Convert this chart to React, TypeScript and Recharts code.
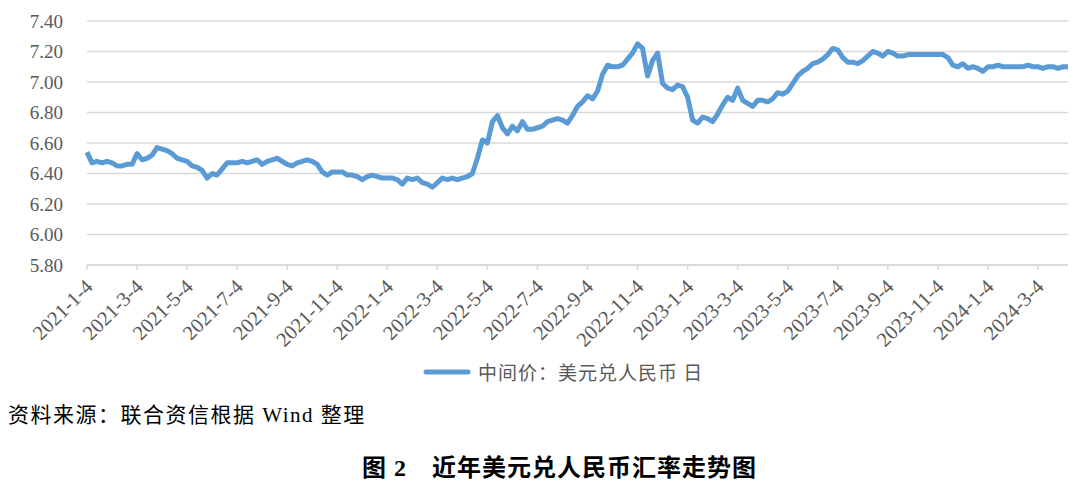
import React from 'react';
import { LineChart, Line, XAxis, YAxis, CartesianGrid } from 'recharts';

// x tick labels, one every 10 points
const tickLabels = [
  '2021-1-4', '2021-3-4', '2021-5-4', '2021-7-4', '2021-9-4', '2021-11-4',
  '2022-1-4', '2022-3-4', '2022-5-4', '2022-7-4', '2022-9-4', '2022-11-4',
  '2023-1-4', '2023-3-4', '2023-5-4', '2023-7-4', '2023-9-4', '2023-11-4',
  '2024-1-4', '2024-3-4',
];

const yTicks = [5.8, 6.0, 6.2, 6.4, 6.6, 6.8, 7.0, 7.2, 7.4];

// USD/CNY central parity (about one point per 4 trading days)
const rate = [
  6.54, 6.47, 6.48, 6.47, 6.48, 6.47, 6.45, 6.45, 6.46, 6.46,
  6.53, 6.49, 6.50, 6.52, 6.57, 6.56, 6.55, 6.53, 6.50, 6.49,
  6.48, 6.45, 6.44, 6.42, 6.37, 6.40, 6.39, 6.43, 6.47, 6.47,
  6.47, 6.48, 6.47, 6.48, 6.49, 6.46, 6.48, 6.49, 6.50, 6.48,
  6.46, 6.45, 6.47, 6.48, 6.49, 6.48, 6.46, 6.41, 6.39, 6.41,
  6.41, 6.41, 6.39, 6.39, 6.38, 6.36, 6.38, 6.39, 6.38, 6.37,
  6.37, 6.37, 6.36, 6.33, 6.37, 6.36, 6.37, 6.34, 6.33, 6.31,
  6.34, 6.37, 6.36, 6.37, 6.36, 6.37, 6.38, 6.40, 6.50, 6.62,
  6.60, 6.74, 6.78, 6.70, 6.66, 6.71, 6.68, 6.74, 6.69, 6.69,
  6.70, 6.71, 6.74, 6.75, 6.76, 6.75, 6.73, 6.78, 6.84, 6.87,
  6.91, 6.89, 6.94, 7.05, 7.11, 7.10, 7.10, 7.11, 7.15, 7.19,
  7.25, 7.22, 7.04, 7.14, 7.19, 6.99, 6.96, 6.95, 6.98, 6.97,
  6.90, 6.75, 6.73, 6.77, 6.76, 6.74, 6.79, 6.85, 6.90, 6.88,
  6.96, 6.88, 6.86, 6.84, 6.88, 6.88, 6.87, 6.89, 6.93, 6.92,
  6.94, 6.99, 7.04, 7.07, 7.09, 7.12, 7.13, 7.15, 7.18, 7.22,
  7.21, 7.16, 7.13, 7.13, 7.12, 7.14, 7.17, 7.20, 7.19, 7.17,
  7.20, 7.19, 7.17, 7.17, 7.18, 7.18, 7.18, 7.18, 7.18, 7.18,
  7.18, 7.18, 7.16, 7.11, 7.10, 7.12, 7.09, 7.10, 7.09, 7.07,
  7.10, 7.10, 7.11, 7.10, 7.10, 7.10, 7.10, 7.10, 7.11, 7.10,
  7.10, 7.09, 7.10, 7.10, 7.09, 7.10, 7.10,
];

const data = rate.map((v, i) => ({ i, v }));
const xTicks = tickLabels.map((_, k) => k * 10);

const BLUE = '#5B9BD5';
const serif = "'Liberation Serif', 'Noto Sans CJK SC', serif";

const DateTick = (props: any) => {
  const { x, y, payload } = props;
  return (
    <g transform={`translate(${x + 2},${y + 11})`}>
      <text
        x={0}
        y={0}
        dy="0.35em"
        textAnchor="end"
        transform="rotate(-45)"
        fill="#595959"
        fontSize={20.5}
        fontFamily={serif}
      >
        {tickLabels[Math.round(payload.value / 10)]}
      </text>
    </g>
  );
};

export default function App() {
  return (
    <div style={{ position: 'absolute', left: 0, top: 0, width: 1080, height: 485, background: '#fff' }}>
      <LineChart width={1080} height={365} data={data} margin={{ top: 21, right: 12, left: 0, bottom: 0 }}>
        <CartesianGrid vertical={false} stroke="#d9d9d9" strokeWidth={1.5} />
        <XAxis
          dataKey="i"
          type="number"
          domain={[0, rate.length - 1]}
          ticks={xTicks}
          interval={0}
          height={100}
          stroke="#d9d9d9"
          strokeWidth={1.5}
          tickSize={5}
          tick={<DateTick />}
        />
        <YAxis
          domain={[5.8, 7.4]}
          ticks={yTicks}
          width={87}
          axisLine={false}
          tickLine={false}
          tickSize={0}
          tickMargin={24}
          tickFormatter={(v: number) => v.toFixed(2)}
          tick={{ fill: '#595959', fontSize: 19, fontFamily: serif }}
        />
        <Line
          type="linear"
          dataKey="v"
          stroke={BLUE}
          strokeWidth={5}
          strokeLinejoin="round"
          dot={false}
          isAnimationActive={false}
        />
      </LineChart>

      <div style={{ position: 'absolute', left: 423, top: 358, display: 'flex', alignItems: 'center' }}>
        <svg width={48} height={10}>
          <line x1={3} y1={5} x2={45} y2={5} stroke={BLUE} strokeWidth={5} strokeLinecap="round" />
        </svg>
        <span style={{ marginLeft: 7, fontSize: 19, letterSpacing: 1, color: '#595959', fontFamily: "'Noto Sans CJK SC', sans-serif" }}>
          中间价：美元兑人民币 日
        </span>
      </div>

      <div style={{ position: 'absolute', left: 8, top: 398, fontSize: 21, letterSpacing: 1.5, color: '#000', fontFamily: serif, whiteSpace: 'nowrap' }}>
        资料来源：联合资信根据 Wind 整理
      </div>

      <div style={{ position: 'absolute', left: 362, top: 448, fontSize: 24, letterSpacing: 1, fontWeight: 'bold', color: '#000', fontFamily: serif, whiteSpace: 'nowrap' }}>
        图 2　近年美元兑人民币汇率走势图
      </div>
    </div>
  );
}
